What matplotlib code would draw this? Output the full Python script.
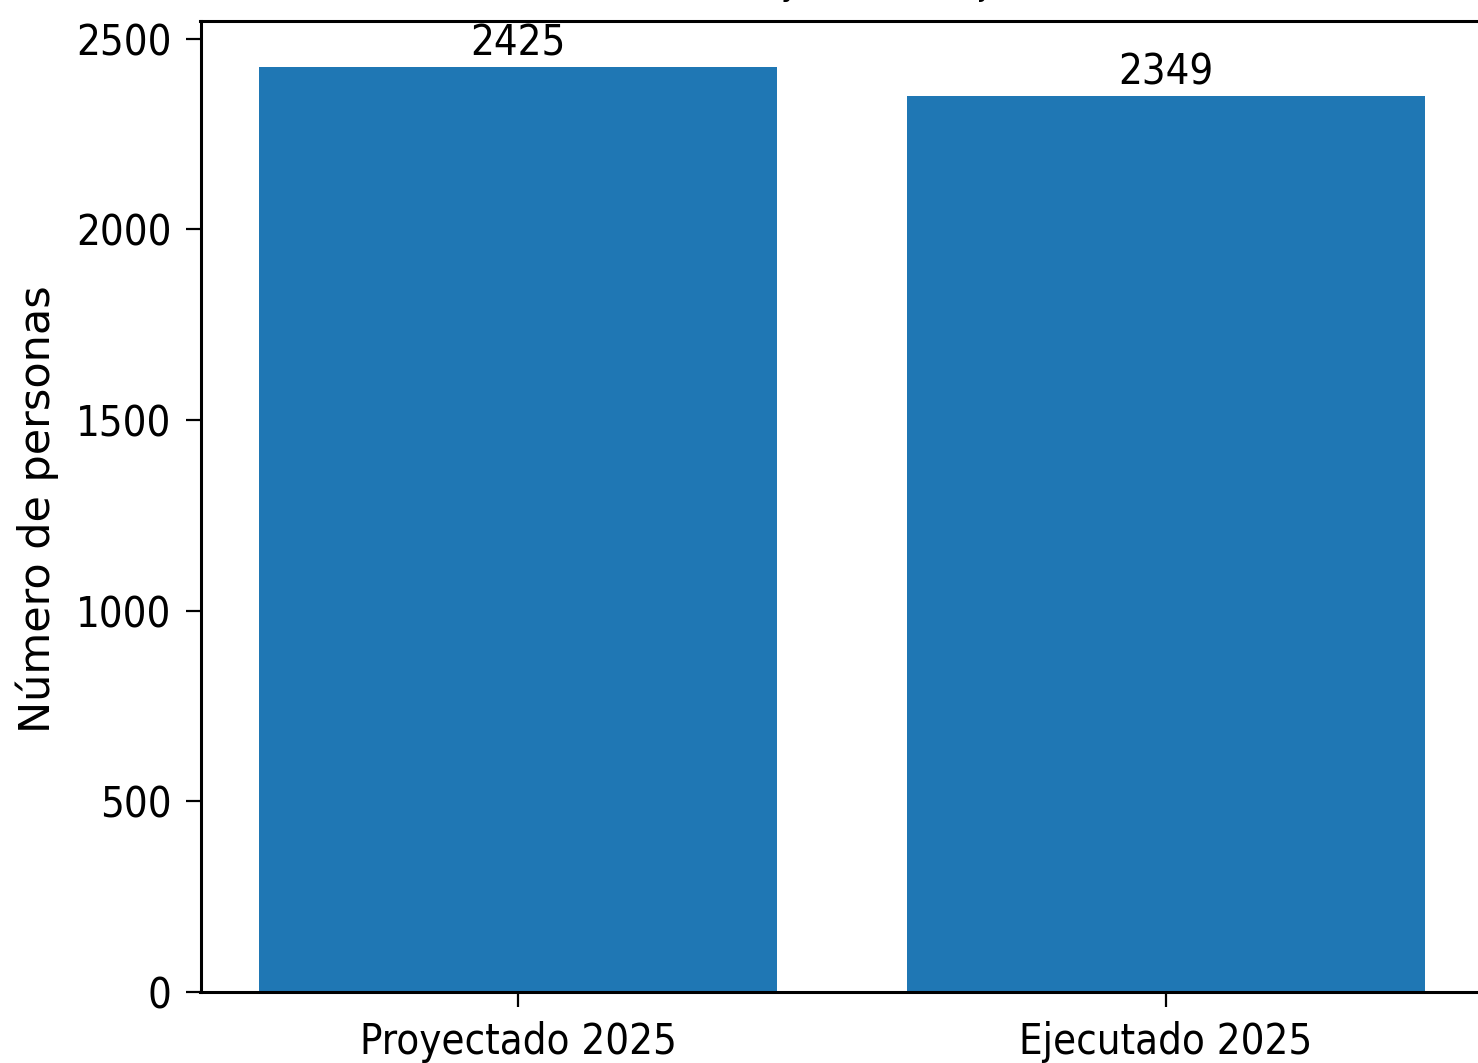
import matplotlib
matplotlib.use("Agg")
import matplotlib.pyplot as plt

categories = ["Proyectado 2025", "Ejecutado 2025"]
values = [2425, 2349]
title = "Proyectado vs Ejecutado"
ylabel = "Número de personas"

W, H = 1478, 1063
fig = plt.figure(figsize=(W / 100, H / 100), dpi=100)
ax = fig.add_axes([200.5 / W, 71 / H, 1283 / W, 971 / H])

fs = 30
bars = ax.bar(categories, values, color="#1f77b4", width=0.8)
ax.bar_label(bars, labels=[str(v) for v in values], padding=2, fontsize=fs,
             fontstretch="condensed")

ax.set_ylabel(ylabel, fontsize=31)
ax.yaxis.set_label_coords(-0.110, 0.497)
ax.set_title(title, fontsize=24.8, x=0.563, pad=18.7, fontstretch="condensed")

ax.tick_params(axis="both", labelsize=fs, length=10.5, width=1.6, pad=10.5)
for lab in ax.get_xticklabels() + ax.get_yticklabels():
    lab.set_fontstretch("condensed")
for s in ax.spines.values():
    s.set_linewidth(2.2)

fig.savefig("out.png", dpi=100)
